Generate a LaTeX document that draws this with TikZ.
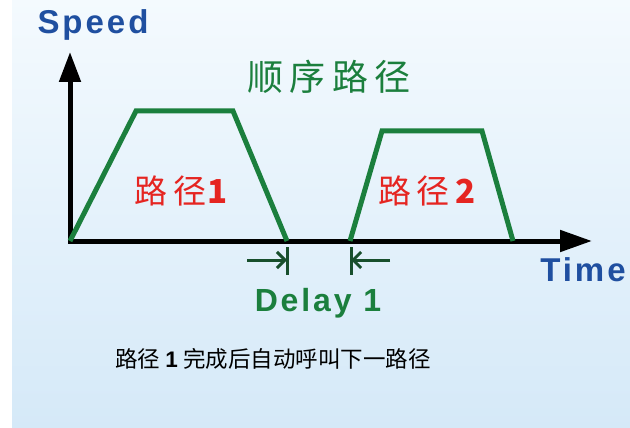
\documentclass[tikz,border=0pt]{standalone}
\usepackage{fontspec}
\setmainfont{Liberation Sans}
\newfontfamily\cjk{Noto Sans CJK SC}
\usetikzlibrary{arrows.meta}

\definecolor{bgtop}{HTML}{F4FAFE}
\definecolor{bgbot}{HTML}{D5E9F8}
\definecolor{axisblue}{HTML}{1F4FA0}
\definecolor{pathgreen}{HTML}{1B7F3D}
\definecolor{delaygreen}{HTML}{184F2C}
\definecolor{pathred}{HTML}{E52521}

\tikzset{
    axis/.style={line width=5pt, {Triangle[length=30pt,width=21pt]}-{Triangle[length=32pt,width=21pt]}},
    profile/.style={pathgreen, line width=5pt, line join=miter},
    delaymark/.style={delaygreen, line width=3pt},
    delayarrow/.style={delaymark, -{Straight Barb[length=8pt,width=16pt]}},
    axislabel/.style={axisblue, font=\fontsize{33}{33}\selectfont\bfseries\addfontfeature{LetterSpace=9}},
    delaylabel/.style={pathgreen, font=\fontsize{32}{32}\selectfont\bfseries\addfontfeature{LetterSpace=9}},
    titlelabel/.style={pathgreen, font=\fontsize{36}{36}\selectfont\cjk\addfontfeature{LetterSpace=18}},
    pathlabel/.style={pathred, font=\fontsize{33}{33}\selectfont\cjk\addfontfeature{LetterSpace=18}},
    notelabel/.style={black, font=\fontsize{22.5}{22.5}\selectfont\cjk}
}

\begin{document}
\begin{tikzpicture}[x=1pt, y=-1pt]

    % Background
    \useasboundingbox (0, 0) rectangle (630, 428);
    \shade [top color=bgtop, bottom color=bgbot] (12, 0) rectangle (630, 428);

    % Axes
    \coordinate (origin) at (70, 241);
    \coordinate (ytip) at (70, 52);
    \coordinate (xtip) at (592, 241);
    \draw [axis] (ytip) -- (origin) -- (xtip);

    %% Axis labels
    \node [axislabel] (speed) at (93, 25) {Speed};
    \node [axislabel] (time) at (583, 270) {Time};

    % Path 1
    \draw [profile] (origin) -- (136, 111) -- (233, 111) -- (287, 241);
    \node [pathlabel] (path1) at (184, 191) {路径\hspace{-5pt}\textbf{1}};

    % Path 2
    \draw [profile] (350, 241) -- (382, 131) -- (482, 131) -- (513, 241);
    \node [pathlabel] (path2) at (430, 191) {路径\textbf{2}};

    %% Title
    \node [titlelabel] (title) at (329, 77) {顺序路径};

    % Delay between paths
    \coordinate (d1start) at (247, 260);
    \coordinate (d1end) at (287, 260);
    \coordinate (d2start) at (390, 260);
    \coordinate (d2end) at (351, 260);
    \draw [delaymark] (287, 247) -- (287, 275);
    \draw [delaymark] (351, 247) -- (351, 275);
    \draw [delayarrow] (d1start) -- (d1end);
    \draw [delayarrow] (d2start) -- (d2end);

    %% Delay label
    \node [delaylabel] (delay) at (318, 303) {Delay 1};

    % Note
    \node [notelabel] (note) at (273, 359) {路径 \textbf{\fontspec{Liberation Sans}1} 完成后自动呼叫下一路径};

\end{tikzpicture}
\end{document}
